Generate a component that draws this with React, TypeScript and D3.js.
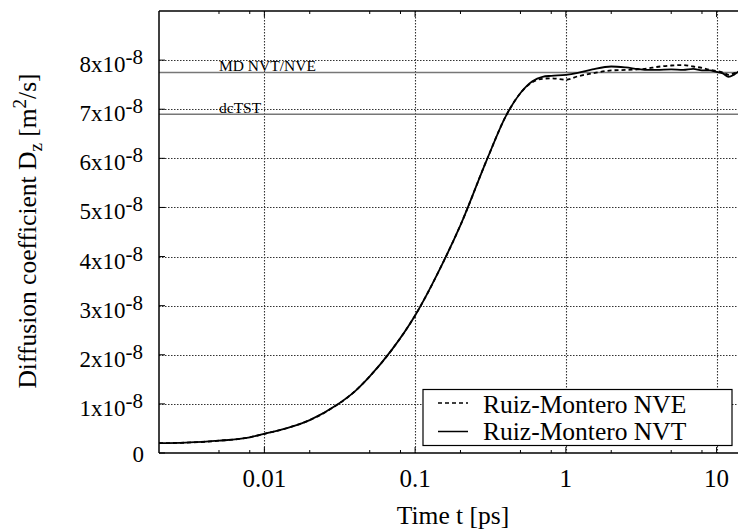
import React from "react";
import * as d3 from "d3";

// time in ps
const TIMES = [0.002, 0.003, 0.005, 0.008, 0.01, 0.015, 0.02, 0.03, 0.04, 0.05, 0.07, 0.1, 0.15, 0.2, 0.3, 0.4,
  0.5, 0.6, 0.7, 0.8, 1, 1.2, 1.5, 2, 2.5, 3, 3.5, 4, 5, 6, 7, 8, 9, 10, 11, 12, 13, 14];
// diffusion coefficient in units of 1e-8 m^2/s
const NVT = [0.20, 0.21, 0.25, 0.32, 0.39, 0.53, 0.67, 0.97, 1.26, 1.56, 2.10, 2.80, 3.82, 4.64, 5.98, 6.86,
  7.33, 7.57, 7.66, 7.68, 7.70, 7.74, 7.81, 7.87, 7.85, 7.82, 7.80, 7.80, 7.81, 7.80, 7.82, 7.79, 7.79, 7.76, 7.73, 7.66, 7.70, 7.77];
const NVE = [0.20, 0.21, 0.25, 0.32, 0.39, 0.53, 0.67, 0.97, 1.26, 1.56, 2.10, 2.80, 3.82, 4.64, 5.98, 6.86,
  7.33, 7.55, 7.62, 7.63, 7.60, 7.67, 7.73, 7.79, 7.80, 7.81, 7.83, 7.86, 7.89, 7.90, 7.87, 7.84, 7.80, 7.78, 7.75, 7.70, 7.73, 7.77];

const REF_LINES = [
  { label: "MD NVT/NVE", value: 7.75 },
  { label: "dcTST", value: 6.9 },
];
const X_MAJOR = [0.01, 0.1, 1, 10];
const X_MAJOR_LABELS = ["0.01", "0.1", "1", "10"];
const X_MINOR = [0.005, 0.008, 0.02, 0.05, 0.08, 0.2, 0.5, 0.8, 2, 5, 8];
const Y_TICKS = [0, 1, 2, 3, 4, 5, 6, 7, 8];
const SERIES = [
  { name: "Ruiz-Montero NVE", values: NVE, dash: "4,3" },
  { name: "Ruiz-Montero NVT", values: NVT, dash: "none" },
];

const FONT = "'Liberation Serif', 'Times New Roman', serif";

export default function App() {
  const W = 738, H = 529;
  const left = 159, right = 740, top = 11, bottom = 453;
  const x = d3.scaleLog().domain([0.002, 14.3]).range([left, right]);
  const y = d3.scaleLinear().domain([0, 9]).range([bottom, top]);

  const mkLine = (vals: number[]) =>
    d3.line<number>()
      .x((_, i) => x(TIMES[i]))
      .y((v) => y(v))
      .curve(d3.curveMonotoneX)(vals) || "";

  return (
    <svg width={W} height={H} style={{ position: "absolute", left: 0, top: 0, background: "#fff" }}
      fontFamily={FONT}>
      <rect x={0} y={0} width={W} height={H} fill="#fff" />
      <defs>
        <clipPath id="plot">
          <rect x={left} y={top} width={right - left} height={bottom - top} />
        </clipPath>
      </defs>
      {/* grid */}
      <g>
        {Y_TICKS.filter((t) => t > 0).map((t) => (
          <line key={"gy" + t} x1={left} x2={right} y1={Math.round(y(t)) + 0.5} y2={Math.round(y(t)) + 0.5}
            stroke="#333" strokeWidth={1.1} strokeDasharray="1.5,1.5" />
        ))}
        {X_MAJOR.map((t) => (
          <line key={"gx" + t} x1={Math.round(x(t)) + 0.5} x2={Math.round(x(t)) + 0.5} y1={top} y2={bottom}
            stroke="#333" strokeWidth={1.1} strokeDasharray="1.5,1.5" />
        ))}
      </g>
      {/* reference lines */}
      {REF_LINES.map((r) => (
        <g key={r.label}>
          <line x1={left} x2={right} y1={y(r.value)} y2={y(r.value)} stroke="#777" strokeWidth={1.5} />
          <text x={219} y={y(r.value) - 1} fontSize={15.5} fill="#000">{r.label}</text>
        </g>
      ))}
      {/* curves */}
      <g clipPath="url(#plot)">
        {SERIES.map((s) => (
          <path key={s.name} d={mkLine(s.values)} fill="none" stroke="#000" strokeWidth={1.8}
            strokeDasharray={s.dash} />
        ))}
      </g>
      {/* frame */}
      <line x1={left} x2={left} y1={top} y2={bottom} stroke="#000" strokeWidth={1.5} />
      <line x1={left} x2={right} y1={top} y2={top} stroke="#000" strokeWidth={1.3} />
      <line x1={left} x2={right} y1={bottom} y2={bottom} stroke="#000" strokeWidth={1.6} />
      {/* ticks */}
      {Y_TICKS.map((t) => (
        <line key={"ty" + t} x1={left} x2={left + 6} y1={y(t)} y2={y(t)} stroke="#000" strokeWidth={1} />
      ))}
      {X_MAJOR.map((t) => (
        <g key={"tx" + t}>
          <line x1={x(t)} x2={x(t)} y1={bottom} y2={bottom - 6} stroke="#000" strokeWidth={1} />
          <line x1={x(t)} x2={x(t)} y1={top} y2={top + 6} stroke="#000" strokeWidth={1} />
        </g>
      ))}
      {X_MINOR.map((t) => (
        <g key={"mx" + t}>
          <line x1={x(t)} x2={x(t)} y1={bottom} y2={bottom - 3} stroke="#000" strokeWidth={1} />
          <line x1={x(t)} x2={x(t)} y1={top} y2={top + 3} stroke="#000" strokeWidth={1} />
        </g>
      ))}
      {/* x tick labels */}
      {X_MAJOR.map((t, i) => (
        <text key={"lx" + t} x={x(t)} y={487} textAnchor="middle" fontSize={25}>{X_MAJOR_LABELS[i]}</text>
      ))}
      {/* y tick labels */}
      {Y_TICKS.map((t) =>
        t === 0 ? (
          <text key={"ly" + t} x={144} y={y(t) + 8.5} textAnchor="end" fontSize={23}>0</text>
        ) : (
          <text key={"ly" + t} x={143} y={y(t) + 12} textAnchor="end" fontSize={23}>
            {t}x10<tspan dy={-8} fontSize={21}>-8</tspan>
          </text>
        )
      )}
      {/* axis titles */}
      <text x={453} y={524} textAnchor="middle" fontSize={25.5}>Time t [ps]</text>
      <text transform={`translate(35.5,${(top + bottom) / 2 - 1}) rotate(-90)`} textAnchor="middle" fontSize={25.5}>
        Diffusion coefficient D<tspan dy={6} fontSize={19}>z</tspan>
        <tspan dy={-6}> [m</tspan><tspan dy={-10} fontSize={19}>2</tspan><tspan dy={10}>/s]</tspan>
      </text>
      {/* legend */}
      <rect x={423} y={389.5} width={309} height={56} fill="#fff" stroke="#000" strokeWidth={1.2} />
      {SERIES.map((s, i) => (
        <g key={"lg" + s.name}>
          <line x1={438} x2={468} y1={403 + i * 28.5} y2={403 + i * 28.5} stroke="#000" strokeWidth={1.5}
            strokeDasharray={s.dash} />
          <text x={483} y={413 + i * 27} fontSize={25.5}>{s.name}</text>
        </g>
      ))}
    </svg>
  );
}
